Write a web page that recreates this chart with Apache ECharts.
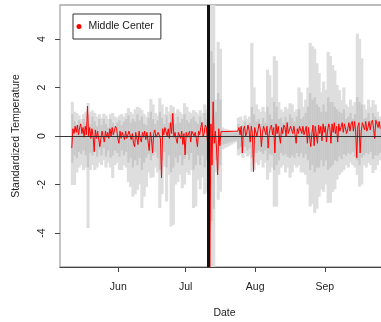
<!DOCTYPE html>
<html>
<head>
<meta charset="utf-8">
<script src="https://cdn.jsdelivr.net/npm/echarts@6/dist/echarts.min.js"></script>
<style>
  html, body { margin: 0; padding: 0; background: #fff; }
  #chart { width: 381px; height: 322px; }
</style>
</head>
<body>
<div id="chart"></div>
<script>
// Station label and time frame
const seriesName = 'Middle Center';
const firstDay = '2015-05-11';
const eventDate = '2015-07-11';
const axisStart = '2015-05-06T00:00:00Z';
const axisEnd = '2015-09-29T15:00:00Z';
const monthTicks = ['2015-06-01', '2015-07-01', '2015-08-01', '2015-09-01'];
const monthLabels = ['Jun', 'Jul', 'Aug', 'Sep'];
const yTicks = [-4, -2, 0, 2, 4];

// Daily envelope across all stations (one value per day from firstDay)
const lightHi = [
  1.41, 1.0, 0.95, 0.85, 0.7, 0.9, 1.0, 1.36, 1.0, 1.05,
  0.95, 0.8, 0.9, 0.75, 0.92, 0.85, 0.7, 0.9, 0.95, 0.8,
  0.75, 0.85, 0.9, 0.8, 0.95, 1.15, 1.0, 0.9, 1.1, 1.2,
  1.15, 1.07, 0.9, 0.8, 1.0, 1.52, 1.3, 0.95, 0.85, 1.56,
  1.3, 0.9, 1.2, 1.0, 1.27, 1.2, 0.95, 1.1, 1.0, 0.9,
  1.35, 1.2, 1.0, 0.95, 1.07, 1.0, 0.9, 1.07, 0.95, 1.3,
  1.1, 1.9, 6, 6, 1.5, 3.88, 3.6, 0.35, 0.3, 0.28,
  0.25, 0.22, 0.2, 0.2, 0.75, 0.8, 0.65, 0.85, 0.7, 0.8,
  3.84, 2.0, 1.3, 1.1, 1.0, 1.2, 1.0, 2.74, 2.5, 1.6,
  3.29, 3.1, 1.4, 1.1, 1.0, 1.2, 1.1, 1.35, 1.3, 1.0,
  1.1, 2.0, 1.8, 1.2, 1.5, 2.0, 3.84, 3.7, 3.6, 3.0,
  2.6, 1.8, 2.24, 1.9, 3.47, 3.3, 2.92, 2.7, 2.1, 1.9,
  1.48, 2.0, 1.3, 1.2, 1.5, 1.25, 1.4, 4.22, 4.0, 3.2,
  1.3, 1.1, 1.5, 1.2, 1.48, 1.3, 1.0, 0.8
];
const lightLo = [
  -2.02, -2.02, -1.5, -1.3, -1.2, -1.4, -1.3, -3.79, -1.4, -1.2,
  -1.4, -1.3, -1.1, -1.2, -1.0, -1.3, -1.1, -1.3, -1.73, -1.2,
  -1.1, -1.4, -1.4, -1.2, -1.3, -1.9, -2.1, -2.5, -2.4, -2.22,
  -2.0, -2.97, -2.5, -2.1, -1.5, -1.73, -1.7, -1.3, -1.5, -2.97,
  -2.4, -1.26, -2.7, -1.6, -3.73, -3.66, -2.0, -1.9, -1.6, -2.15,
  -2.0, -1.5, -1.6, -1.4, -2.97, -2.9, -1.8, -2.2, -1.7, -2.4,
  -2.3, -3.0, -6, -6, -1.5, -2.63, -2.3, -0.55, -0.5, -0.45,
  -0.4, -0.35, -0.3, -0.25, -0.8, -0.75, -0.9, -0.7, -0.85, -0.8,
  -1.47, -1.4, -1.1, -1.2, -1.0, -1.3, -1.1, -1.8, -1.5, -1.3,
  -2.91, -2.91, -1.6, -1.3, -1.2, -1.5, -1.3, -1.72, -1.5, -1.2,
  -1.3, -1.2, -1.5, -1.5, -1.6, -2.0, -2.91, -2.8, -3.17, -3.0,
  -2.5, -2.2, -2.3, -2.0, -2.76, -2.75, -2.3, -2.2, -1.8, -1.6,
  -1.5, -1.4, -1.2, -1.3, -1.1, -1.2, -1.3, -1.6, -2.08, -2.0,
  -1.2, -1.3, -1.1, -1.2, -1.53, -1.4, -1.2, -1.0
];
// Inner (central) daily range across stations
const darkHi = [
  0.9, 0.6, 0.45, 0.65, 0.4, 0.7, 0.55, 0.9, 0.5, 0.8,
  0.6, 0.4, 0.7, 0.45, 0.7, 0.5, 0.35, 0.7, 0.55, 0.4,
  0.55, 0.65, 0.45, 0.6, 0.7, 0.85, 0.55, 0.7, 0.6, 0.9,
  0.65, 0.8, 0.5, 0.45, 0.75, 1.0, 0.7, 0.5, 0.65, 1.0,
  0.75, 0.5, 0.85, 0.55, 0.9, 0.7, 0.5, 0.8, 0.55, 0.7,
  0.9, 0.65, 0.55, 0.7, 0.8, 0.6, 0.5, 0.8, 0.55, 0.95,
  0.7, 1.2, 3.5, 3.0, 1.0, 1.77, 1.5, 0.22, 0.2, 0.18,
  0.16, 0.15, 0.14, 0.14, 0.5, 0.4, 0.45, 0.6, 0.4, 0.55,
  1.2, 0.9, 0.6, 0.7, 0.5, 0.75, 0.55, 1.2, 0.9, 0.7,
  1.4, 1.2, 0.7, 0.75, 0.55, 0.8, 0.6, 0.9, 0.75, 0.6,
  0.8, 1.1, 0.7, 0.8, 0.95, 1.2, 1.77, 1.5, 1.6, 1.3,
  1.2, 1.0, 1.3, 1.0, 1.6, 1.4, 1.4, 1.2, 1.1, 1.0,
  0.95, 1.1, 0.7, 0.8, 0.95, 0.7, 0.9, 1.6, 1.4, 1.3,
  0.7, 0.75, 0.95, 0.65, 0.95, 0.8, 0.7, 0.6
];
const darkLo = [
  -1.1, -0.8, -0.9, -0.65, -0.75, -0.6, -0.8, -1.3, -0.7, -0.8,
  -0.6, -0.85, -0.55, -0.8, -0.5, -0.85, -0.6, -0.9, -0.8, -0.6,
  -0.7, -0.85, -0.6, -0.8, -0.65, -1.1, -0.9, -1.3, -1.0, -1.2,
  -0.9, -1.4, -1.1, -0.9, -0.75, -1.0, -0.8, -0.65, -0.9, -1.4,
  -1.0, -0.65, -1.3, -0.8, -1.5, -1.3, -0.9, -1.1, -0.8, -1.2,
  -0.95, -0.75, -1.0, -0.7, -1.4, -1.2, -0.8, -1.2, -0.8, -1.3,
  -1.0, -1.6, -3.5, -3.0, -1.0, -1.4, -1.2, -0.35, -0.32, -0.3,
  -0.27, -0.24, -0.2, -0.18, -0.55, -0.45, -0.6, -0.45, -0.6, -0.5,
  -0.9, -0.7, -0.7, -0.6, -0.65, -0.75, -0.6, -1.0, -0.75, -0.8,
  -1.4, -1.2, -1.0, -0.7, -0.8, -0.75, -0.85, -0.9, -0.8, -0.9,
  -0.7, -0.85, -0.7, -0.9, -0.75, -1.0, -1.4, -1.2, -1.5, -1.3,
  -1.3, -1.0, -1.25, -1.0, -1.4, -1.3, -1.2, -1.0, -1.05, -0.85,
  -0.95, -0.75, -0.8, -0.7, -0.75, -0.65, -0.85, -1.0, -1.2, -0.9,
  -0.8, -0.7, -0.75, -0.65, -0.95, -0.8, -0.8, -0.7
];
// Middle Center station, two readings per day (06:00 and 18:00); null = no data
const redValues = [
  -0.5, 0.3,   0.1, 0.4,    0.15, 0.45,  0.05, 0.35,  0.5, 0.1,
  0.35, -0.05, 0.4, 0.05,   1.23, 0.0,   0.35, -0.1,  0.3, 0.0,
  -0.65, 0.25, -0.1, 0.2,   0.15, -0.44, -0.1, 0.2,   0.15, -0.25,
  0.2, -0.05,  0.15, -0.1,  0.3, 0.0,    0.35, 0.05,  0.1, 0.4,
  0.3, -0.1,   -0.3, 0.2,   -0.1, 0.15,  0.15, -0.15, 0.2, -0.1,
  -0.05, 0.2,  0.15, -0.15, 0.1, -0.3,   -0.44, 0.15, 0.1, -0.35,
  0.2, -0.1,   -0.25, 0.15, -0.05, 0.2,  -0.15, 0.15, 0.1, -0.6,
  0.15, -0.1,  -0.7, 0.1,   0.25, -0.05, -0.1, 0.15,  0.2, -0.1,
  -1.73, 0.3,  0.05, 0.35,  0.4, 0.0,    0.3, -0.1,   0.55, 0.1,
  0.94, -0.05, 0.15, -0.1,  -0.3, 0.15,  0.15, -0.1,  0.2, -0.35,
  0.1, -0.78,  0.15, -0.05, -0.1, 0.2,   -0.25, 0.2,  0.2, 0.0,
  0.15, -0.1,  -0.44, 0.2,  0.05, 0.35,  0.56, 0.0,   0.1, 0.45,
  0.35, -0.25, 2.1, -6.0,   0.5, -1.2,   1.41, -0.3,  0.2, -0.5,
  -1.6, 0.3,   -0.4, 0.18,  null, null,  null, null,  null, null,
  null, null,  null, null,  null, null,  null, null,  0.2, 0.35,
  0.05, 0.4,   -0.7, 0.3,   0.4, 0.0,    0.15, 0.45,  0.25, -0.25,
  0.4, 0.1,    -1.47, 0.35, 0.4, 0.0,    0.25, 0.5,   0.3, -0.44,
  0.15, 0.4,   0.35, 0.05,  0.4, -0.5,   0.1, 0.35,   0.45, 0.05,
  0.35, -0.7,  0.5, 0.1,    0.4, 0.0,    -0.3, 0.35,  0.1, 0.45,
  0.35, 0.0,   0.55, 0.1,   0.05, 0.4,   0.35, 0.1,   0.4, 0.05,
  -0.3, 0.3,   0.1, 0.4,    0.35, 0.1,   0.4, 0.05,   0.05, 0.4,
  -0.3, 0.35,  0.4, -0.44,  0.1, 0.45,   -0.4, 0.4,   0.35, -0.3,
  0.45, 0.1,   0.4, -0.2,   0.5, 0.15,   0.4, -0.25,  0.2, 0.5,
  0.35, -0.3,  0.5, 0.15,   0.55, 0.1,   0.4, -0.25,  0.5, 0.2,
  0.25, 0.55,  0.15, 0.5,   0.45, 0.1,   0.3, 0.55,   0.2, 0.5,
  0.6, 0.2,    0.6, 0.25,   -0.9, 0.4,   0.55, -0.7,  0.2, 0.55,
  0.5, 0.25,   0.6, 0.2,    0.35, 0.6,   0.25, 0.55,  0.65, 0.3,
  -0.1, 0.65,  0.6, 0.35,   0.6, 0.3
];

const HOUR = 3600 * 1000;
const DAY = 24 * HOUR;
const t0 = Date.parse(firstDay + 'T00:00:00Z');
const tickTimes = monthTicks.map(d => Date.parse(d + 'T00:00:00Z'));

const lightData = lightHi.map((hi, i) => [t0 + i * DAY + 12 * HOUR, lightLo[i], hi]);
const darkData = darkHi.map((hi, i) => [t0 + i * DAY + 12 * HOUR, darkLo[i], hi]);
const redData = redValues.map((v, k) => [t0 + k * 12 * HOUR + 6 * HOUR, v]);

function rangeBar(color, widthDays) {
  return function (params, api) {
    const lo = api.coord([api.value(0), api.value(1)]);
    const hi = api.coord([api.value(0), api.value(2)]);
    const w = api.size([DAY, 0])[0] * widthDays;
    return {
      type: 'rect',
      shape: { x: lo[0] - w / 2, y: hi[1], width: w, height: lo[1] - hi[1] },
      style: { fill: color }
    };
  };
}

const font = 'Liberation Sans, Arial, sans-serif';
const chart = echarts.init(document.getElementById('chart'), null, { renderer: 'canvas' });
chart.setOption({
  animation: false,
  backgroundColor: '#ffffff',
  textStyle: { fontFamily: font },
  grid: {
    left: 60, top: 5, width: 329, height: 262,
    outerBoundsMode: 'none', containLabel: false,
    show: true, borderColor: '#a6a6a6', borderWidth: 1.3, backgroundColor: 'transparent'
  },
  legend: {
    data: [{ name: seriesName, icon: 'circle' }],
    left: 73, top: 14,
    itemWidth: 9, itemHeight: 5,
    padding: [7, 7, 7, 3.5],
    borderColor: '#333', borderWidth: 1, borderRadius: 0,
    textStyle: { fontSize: 10.5, color: '#222', fontFamily: font },
    selectedMode: false
  },
  xAxis: {
    type: 'value',
    min: Date.parse(axisStart),
    max: Date.parse(axisEnd),
    name: 'Date', nameLocation: 'middle', nameGap: 41,
    nameTextStyle: { fontSize: 10.5, color: '#222', fontFamily: font },
    axisLine: { show: true, onZero: false, lineStyle: { color: '#444', width: 1 } },
    axisTick: { show: true, inside: false, length: 5, customValues: tickTimes, lineStyle: { color: '#444' } },
    axisLabel: {
      show: true, margin: 15, fontSize: 10.5, color: '#222', fontFamily: font,
      customValues: tickTimes,
      formatter: v => monthLabels[tickTimes.indexOf(v)] || ''
    },
    splitLine: { show: false }
  },
  yAxis: {
    type: 'value', min: -5.4, max: 5.4,
    name: 'Standardized Temperature', nameLocation: 'middle', nameGap: 38,
    nameTextStyle: { fontSize: 10.5, color: '#222', fontFamily: font },
    axisLine: { show: false },
    axisTick: { show: true, inside: false, length: 5, customValues: yTicks, lineStyle: { color: '#444' } },
    axisLabel: {
      show: true, rotate: 90, margin: 12, fontSize: 10.5, color: '#222', fontFamily: font,
      customValues: yTicks
    },
    splitLine: { show: false }
  },
  series: [
    {
      type: 'custom', name: 'range', data: lightData, clip: true, z: 1, silent: true,
      encode: { x: 0, y: [1, 2] }, renderItem: rangeBar('#dedede', 1.4)
    },
    {
      type: 'custom', name: 'inner', data: darkData, clip: true, z: 2, silent: true,
      encode: { x: 0, y: [1, 2] }, renderItem: rangeBar('#c8c8c8', 1.0)
    },
    {
      type: 'line', name: seriesName, data: redData, z: 3,
      showSymbol: false, connectNulls: true, clip: true, silent: true,
      lineStyle: { color: '#ff0000', width: 1 },
      itemStyle: { color: '#ff0000' },
      markLine: {
        silent: true, symbol: 'none', label: { show: false },
        data: [
          { yAxis: 0, lineStyle: { color: '#333', width: 1, type: 'solid' } },
          { xAxis: Date.parse(eventDate + 'T00:00:00Z'), lineStyle: { color: '#111', width: 3, type: 'solid' } }
        ]
      }
    }
  ]
});
</script>
</body>
</html>
